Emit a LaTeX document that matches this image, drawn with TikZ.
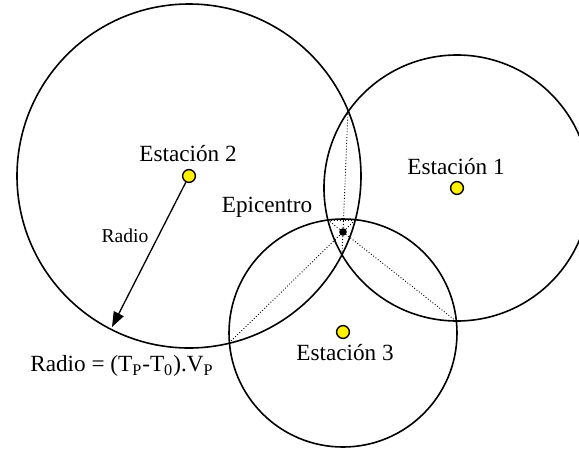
\documentclass[tikz,border=0pt]{standalone}
\usepackage{fontspec}
\setmainfont{Liberation Serif}
\usepackage{tikz}
\usetikzlibrary{positioning, arrows.meta}

\tikzset{
  ring/.style={line width=0.8pt},
  station/.style={circle, draw, fill=yellow, line width=0.7pt, minimum size=6.4pt, inner sep=0pt},
  chord/.style={line width=0.45pt, dash pattern=on 0.45pt off 1pt},
  lbl/.style={font=\fontsize{11.6}{13}\selectfont, inner sep=0pt}
}

\begin{document}
\begin{tikzpicture}[x=0.5pt, y=-0.5pt]
        \useasboundingbox (0,0) rectangle (579,451);

        % Circles
        \draw[ring] (457,188) circle[radius=133];
        \draw[ring] (189,176) circle[radius=172];
        \draw[ring] (343,333) circle[radius=114];

        % Crossings of the circles
        \coordinate (f12) at (348,111);
        \coordinate (n12) at (342,255);
        \coordinate (f23) at (229,343);
        \coordinate (n23) at (355,220);
        \coordinate (f13) at (456,321);
        \coordinate (n13) at (328,220);

        % Epicentre
        \node[circle, fill=black, minimum size=3.8pt, inner sep=0pt] (epi) at (343,232) {};
        \draw[chord] (f12) -- (epi) -- (n12);
        \draw[chord] (f23) -- (epi) -- (n23);
        \draw[chord] (f13) -- (epi) -- (n13);
        \draw[chord] (n13) -- (n23);
        \node[lbl] (epilbl) at (267,207) {Epicentro};

        % Stations
        \node[station] (est1) at (457,188) {};
        \node[station] (est2) at (189,176) {};
        \node[station] (est3) at (343,332) {};
        \node[lbl] (lbl1) at (456,167) {Estación 1};
        \node[lbl] (lbl2) at (188,154) {Estación 2};
        \node[lbl] (lbl3) at (345,353) {Estación 3};

        % Radius
        \coordinate (rend) at (112,327);
        \draw[line width=0.65pt, -{Triangle[length=7.5pt, width=5.5pt]}] (est2) -- (rend);
        \node[font=\fontsize{9.8}{11}\selectfont, inner sep=0pt] (radio) at (125,236) {Radio};
        \node[lbl] (formula) at (122,366) {Radio = (T\textsubscript{P}-T\textsubscript{0}).V\textsubscript{P}};
      \end{tikzpicture}
\end{document}
